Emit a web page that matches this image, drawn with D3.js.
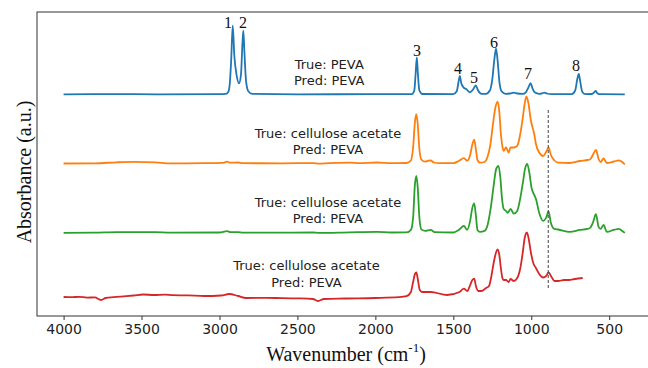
<!DOCTYPE html>
<html><head><meta charset="utf-8">
<script src="https://cdn.jsdelivr.net/npm/d3@7"></script>
<style>body{margin:0;background:#fff;}svg{display:block;}</style>
</head><body>
<svg id="chart" width="648" height="368"></svg>
<script>
const xTicks = [4000,3500,3000,2500,2000,1500,1000,500];
const seriesNames = ["PEVA","cellulose acetate 1","cellulose acetate 2","cellulose acetate 3"];
const seriesColors = ["#1f77b4","#ff7f0e","#2ca02c","#d62728"];
const seriesOffsets = [2.037,1.345,0.651,0];
const trueLabels = ["True: PEVA","True: cellulose acetate","True: cellulose acetate","True: cellulose acetate"];
const predLabels = ["Pred: PEVA","Pred: PEVA","Pred: PEVA","Pred: PEVA"];
const labelW = [2296,2304,2304,2442];
const trueLabelV = [0.30,0.30,0.30,0.33];
const predLabelV = [0.14,0.14,0.14,0.16];
const peakNames = ["1","2","3","4","5","6","7","8"];
const peakW = [2946,2849,1733,1470,1367,1239,1021,713];
const peakV = [0.72,0.72,0.443,0.263,0.173,0.523,0.213,0.293];
const dashW = 891, dashTop = 1.88, dashBottom = 0.08;

const peva = [[4000,0],[3700,0.002],[3400,0],[3000,0.001],[2960,0.004],[2945,0.02],[2935,0.09],[2925,0.34],[2915,0.686],[2905,0.39],[2890,0.19],[2875,0.11],[2862,0.2],[2853,0.5],[2847,0.636],[2840,0.42],[2830,0.14],[2815,0.03],[2790,0.004],[2500,0],[2000,0.001],[1765,0.002],[1750,0.04],[1742,0.2],[1734,0.368],[1727,0.2],[1718,0.04],[1700,0.003],[1500,0.002],[1478,0.03],[1467,0.12],[1458,0.185],[1449,0.11],[1432,0.065],[1417,0.053],[1395,0.02],[1372,0.05],[1356,0.09],[1342,0.04],[1319,0.005],[1290,0.005],[1265,0.04],[1250,0.15],[1236,0.36],[1226,0.457],[1216,0.34],[1204,0.12],[1190,0.03],[1165,0.005],[1135,0.008],[1112,0.016],[1090,0.008],[1055,0.004],[1035,0.02],[1018,0.07],[1004,0.111],[992,0.06],[978,0.02],[950,0.005],[930,0.01],[917,0.017],[900,0.008],[870,0.002],[740,0.002],[718,0.04],[705,0.15],[695,0.203],[686,0.13],[674,0.03],[655,0.002],[610,0.003],[596,0.02],[587,0.033],[578,0.015],[565,0.002],[400,0]];
const ca1 = [[4000,0],[3800,0.002],[3660,0.012],[3550,0.016],[3413,0.012],[3316,0.002],[3100,0.003],[2980,0.006],[2951,0.018],[2930,0.008],[2880,0.01],[2850,0.003],[2600,0.002],[2400,0.004],[2360,-0.002],[2300,0.004],[2163,0.008],[2100,0.003],[1990,0.01],[1900,0.003],[1800,0.005],[1772,0.03],[1758,0.16],[1746,0.42],[1737,0.493],[1728,0.39],[1718,0.15],[1705,0.04],[1680,0.018],[1660,0.028],[1645,0.03],[1625,0.01],[1590,0.003],[1500,0.004],[1465,0.025],[1432,0.053],[1412,0.028],[1392,0.085],[1378,0.19],[1366,0.238],[1355,0.14],[1345,0.035],[1329,0.008],[1300,0.015],[1282,0.06],[1262,0.19],[1246,0.39],[1230,0.56],[1216,0.618],[1205,0.52],[1195,0.3],[1185,0.17],[1177,0.127],[1162,0.16],[1145,0.11],[1133,0.16],[1112,0.16],[1090,0.177],[1070,0.3],[1055,0.45],[1042,0.6],[1031,0.67],[1018,0.6],[1003,0.435],[981,0.295],[970,0.195],[949,0.11],[923,0.075],[905,0.115],[889,0.16],[874,0.085],[851,0.03],[827,0.008],[753,0.005],[688,0.025],[640,0.035],[623,0.04],[605,0.085],[585,0.135],[568,0.045],[555,0.015],[536,0.05],[515,0.005],[470,0.02],[438,0.032],[416,0.015],[400,-0.01]];
const ca2 = [[4000,0],[3800,0.002],[3660,0.008],[3413,0.008],[3316,0.002],[3000,0.004],[2951,0.018],[2930,0.008],[2880,0.008],[2850,0.002],[2400,0.004],[2360,0],[2163,0.006],[1990,0.01],[1900,0.004],[1800,0.005],[1772,0.03],[1758,0.15],[1747,0.47],[1737,0.569],[1728,0.45],[1718,0.16],[1705,0.035],[1680,0.02],[1645,0.03],[1620,0.008],[1500,0.004],[1465,0.03],[1432,0.07],[1412,0.03],[1392,0.12],[1378,0.25],[1366,0.295],[1355,0.17],[1345,0.03],[1329,0.01],[1300,0.02],[1280,0.08],[1260,0.25],[1243,0.45],[1225,0.64],[1210,0.671],[1198,0.55],[1188,0.35],[1177,0.24],[1162,0.22],[1150,0.2],[1133,0.24],[1112,0.193],[1090,0.22],[1070,0.35],[1052,0.52],[1040,0.64],[1026,0.689],[1012,0.6],[998,0.45],[981,0.38],[970,0.34],[949,0.2],[923,0.12],[905,0.15],[889,0.214],[874,0.1],[851,0.04],[827,0.034],[753,0.01],[688,0.03],[640,0.04],[623,0.05],[605,0.1],[585,0.187],[568,0.06],[555,0.04],[536,0.08],[515,0.01],[470,0.03],[438,0.041],[416,0.02],[400,0]];
const ca3 = [[4000,0.01],[3950,0.008],[3900,0.012],[3850,0.004],[3800,0.006],[3760,-0.02],[3730,0.0],[3680,0.008],[3600,0.018],[3550,0.025],[3490,0.035],[3420,0.03],[3350,0.034],[3300,0.028],[3200,0.026],[3100,0.02],[2990,0.025],[2938,0.04],[2880,0.02],[2830,0.0],[2700,0.002],[2600,-0.002],[2480,-0.004],[2400,-0.01],[2368,-0.03],[2330,-0.01],[2200,-0.005],[2000,0],[1850,0.008],[1800,0.018],[1772,0.06],[1758,0.16],[1746,0.24],[1737,0.255],[1728,0.19],[1715,0.08],[1700,0.06],[1645,0.06],[1540,0.03],[1460,0.06],[1432,0.093],[1410,0.07],[1392,0.13],[1378,0.18],[1366,0.194],[1355,0.12],[1340,0.07],[1320,0.07],[1290,0.1],[1271,0.12],[1258,0.2],[1240,0.36],[1225,0.46],[1216,0.486],[1205,0.43],[1195,0.3],[1185,0.2],[1177,0.18],[1162,0.18],[1145,0.16],[1133,0.19],[1112,0.17],[1090,0.2],[1070,0.3],[1055,0.45],[1042,0.6],[1028,0.655],[1015,0.58],[1003,0.46],[985,0.34],[970,0.3],[949,0.24],[923,0.205],[905,0.22],[889,0.255],[870,0.21],[851,0.17],[827,0.17],[790,0.18],[760,0.18],[720,0.19],[670,0.2]];
const spectra = [peva, ca1, ca2, ca3];

const svg = d3.select("#chart");
const L = 37, T = 12, R = 649, B = 316;
const x = d3.scaleLinear().domain([4000,500]).range([63.6,609.2]);
const y = d3.scaleLinear().domain([0,1]).range([298,198]);

// frame
svg.append("rect").attr("x",L).attr("y",T).attr("width",R-L).attr("height",B-T)
  .attr("fill","none").attr("stroke","#333").attr("stroke-width",1);

const xAxis = d3.axisBottom(x).tickValues(xTicks).tickSize(4).tickPadding(4).tickFormat(d3.format("d"));
const gx = svg.append("g").attr("transform",`translate(0,${B})`).call(xAxis);
gx.select(".domain").remove();
gx.selectAll("line").attr("stroke","#333");
gx.selectAll("text").attr("font-family","DejaVu Sans").attr("font-size",14).attr("fill","#222");

const line = d3.line().x(d=>x(d[0])).y(d=>d[1]).curve(d3.curveMonotoneX);
spectra.forEach((s,i)=>{
  svg.append("path")
    .attr("d", line(s.map(d=>[d[0], y(d[1]+seriesOffsets[i])])))
    .attr("fill","none").attr("stroke",seriesColors[i]).attr("stroke-width",1.8)
    .attr("stroke-linejoin","round");
});

// dashed marker
svg.append("line").attr("x1",x(dashW)).attr("x2",x(dashW)).attr("y1",y(dashTop)).attr("y2",y(dashBottom))
  .attr("stroke","#444").attr("stroke-width",1).attr("stroke-dasharray","3,2");

// labels
spectra.forEach((s,i)=>{
  const g = svg.append("g").attr("font-family","DejaVu Sans").attr("font-size",13).attr("fill","#222").attr("text-anchor","middle");
  g.append("text").attr("x",x(labelW[i])).attr("y",y(seriesOffsets[i]+trueLabelV[i])).attr("dominant-baseline","central").text(trueLabels[i]);
  g.append("text").attr("x",x(labelW[i])).attr("y",y(seriesOffsets[i]+predLabelV[i])).attr("dominant-baseline","central").text(predLabels[i]);
});

// peak numbers
peakNames.forEach((p,i)=>{
  svg.append("text").attr("x",x(peakW[i])).attr("y",y(seriesOffsets[0]+peakV[i]))
    .attr("dominant-baseline","central").attr("text-anchor","middle")
    .attr("font-family","Liberation Serif").attr("font-size",16).attr("fill","#111").text(p);
});

// axis titles
const xt = svg.append("text").attr("x",346).attr("y",354).attr("dominant-baseline","central").attr("text-anchor","middle")
  .attr("font-family","Liberation Serif").attr("font-size",20).attr("fill","#111");
xt.append("tspan").text("Wavenumber (cm");
xt.append("tspan").attr("font-size",13).attr("dy",-7).text("-1");
xt.append("tspan").attr("dy",7).text(")");

svg.append("text").attr("transform","translate(24,172) rotate(-90)").attr("dominant-baseline","central")
  .attr("text-anchor","middle").attr("font-family","Liberation Serif").attr("font-size",20).attr("fill","#111")
  .text("Absorbance (a.u.)");
</script>
</body></html>
